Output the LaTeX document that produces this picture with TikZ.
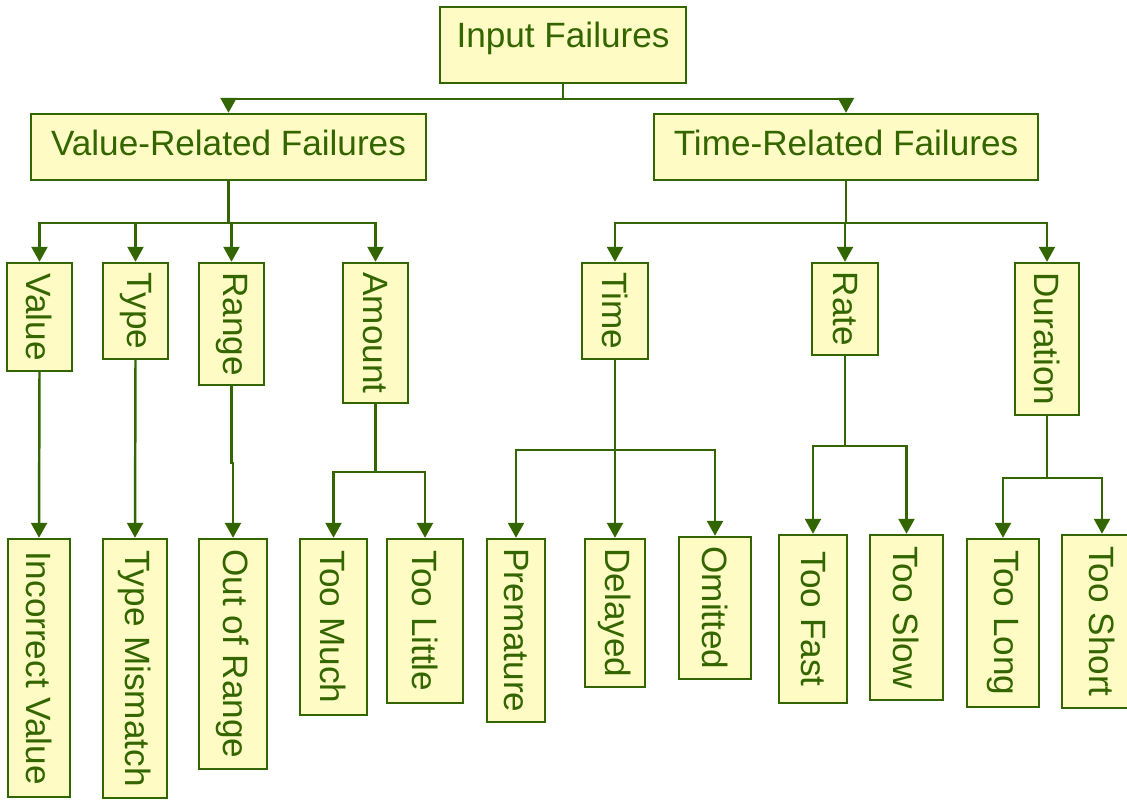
\documentclass[tikz,border=0pt]{standalone}
\usepackage{fontspec}
\setmainfont{Liberation Sans}
\usepackage{graphicx}
\usetikzlibrary{arrows.meta}
\definecolor{boxgreen}{RGB}{51,102,0}
\definecolor{boxfill}{RGB}{255,251,196}
\newcommand{\vlabel}[1]{\rotatebox{-90}{#1}}

\begin{document}
\begin{tikzpicture}[
  box/.style={draw=boxgreen, fill=boxfill, line width=1.4pt, text=boxgreen,
    font=\fontsize{20}{24}\selectfont, inner sep=0pt},
  hbox/.style={box, text height=0.82cm, text depth=0.5cm},
  vbox/.style={box},
  conn/.style={draw=boxgreen, line width=1.4pt, -{Triangle[width=0.32cm,length=0.3cm]}}
]
  \useasboundingbox (0,0) rectangle (22.54,-15.98);
  % Top levels
  \node[hbox, minimum width=4.92cm, text height=0.8cm, text depth=0.72cm] (inp) at (11.26,-0.90) {Input Failures};
  \node[hbox, minimum width=7.9cm] (vrf) at (4.57,-2.94) {Value-Related Failures};
  \node[hbox, minimum width=7.68cm] (trf) at (16.92,-2.94) {Time-Related Failures};
  % Failure kinds
  \node[vbox, minimum width=1.30cm, minimum height=2.16cm] (val) at (0.79,-6.34) {\vlabel{Value}};
  \node[vbox, minimum width=1.30cm, minimum height=1.92cm] (typ) at (2.71,-6.22) {\vlabel{Type}};
  \node[vbox, minimum width=1.30cm, minimum height=2.44cm] (rng) at (4.63,-6.48) {\vlabel{Range}};
  \node[vbox, minimum width=1.30cm, minimum height=2.80cm] (amt) at (7.51,-6.66) {\vlabel{Amount}};
  \node[vbox, minimum width=1.32cm, minimum height=1.92cm] (tim) at (12.30,-6.22) {\vlabel{Time}};
  \node[vbox, minimum width=1.32cm, minimum height=1.84cm] (rat) at (16.90,-6.18) {\vlabel{Rate}};
  \node[vbox, minimum width=1.28cm, minimum height=3.04cm] (dur) at (20.94,-6.78) {\vlabel{Duration}};
  % Failure modes
  \node[vbox, minimum width=1.24cm, minimum height=5.16cm] (incv) at (0.78,-13.36) {\vlabel{Incorrect Value}};
  \node[vbox, minimum width=1.28cm, minimum height=5.18cm] (tmis) at (2.70,-13.37) {\vlabel{Type Mismatch}};
  \node[vbox, minimum width=1.36cm, minimum height=4.60cm] (oor) at (4.66,-13.08) {\vlabel{Out of Range}};
  \node[vbox, minimum width=1.34cm, minimum height=3.52cm] (much) at (6.67,-12.54) {\vlabel{Too Much}};
  \node[vbox, minimum width=1.52cm, minimum height=3.28cm] (litl) at (8.50,-12.42) {\vlabel{Too Little}};
  \node[vbox, minimum width=1.16cm, minimum height=3.66cm] (prem) at (10.32,-12.61) {\vlabel{Premature}};
  \node[vbox, minimum width=1.20cm, minimum height=2.96cm] (dlyd) at (12.30,-12.26) {\vlabel{Delayed}};
  \node[vbox, minimum width=1.44cm, minimum height=2.84cm] (omit) at (14.30,-12.16) {\vlabel{Omitted}};
  \node[vbox, minimum width=1.36cm, minimum height=3.36cm] (fast) at (16.26,-12.38) {\vlabel{Too Fast}};
  \node[vbox, minimum width=1.46cm, minimum height=3.30cm] (slow) at (18.13,-12.35) {\vlabel{Too Slow}};
  \node[vbox, minimum width=1.44cm, minimum height=3.36cm] (long) at (20.06,-12.46) {\vlabel{Too Long}};
  \node[vbox, minimum width=1.60cm, minimum height=3.46cm] (shrt) at (22.04,-12.43) {\vlabel{Too Short}};
  % Connectors
  \draw[conn] (inp.south) -- ++(0,-0.3) -| (vrf.north);
  \draw[conn] (inp.south) -- ++(0,-0.3) -| (trf.north);
  \foreach \c in {val,typ,rng,amt} \draw[conn] (vrf.south) -- ++(0,-0.84) -| (\c.north);
  \foreach \c in {tim,rat,dur} \draw[conn] (trf.south) -- ++(0,-0.84) -| (\c.north);
  \draw[conn] (val.south) -- (incv.north);
  \draw[conn] (typ.south) -- (tmis.north);
  \draw[conn] (rng.south) -- ++(0,-1.54) -| (oor.north);
  \foreach \c in {much,litl} \draw[conn] (amt.south) -- ++(0,-1.36) -| (\c.north);
  \foreach \c in {prem,dlyd,omit} \draw[conn] (tim.south) -- ++(0,-1.8) -| (\c.north);
  \foreach \c in {fast,slow} \draw[conn] (rat.south) -- ++(0,-1.8) -| (\c.north);
  \foreach \c in {long,shrt} \draw[conn] (dur.south) -- ++(0,-1.24) -| (\c.north);
\end{tikzpicture}
\end{document}
